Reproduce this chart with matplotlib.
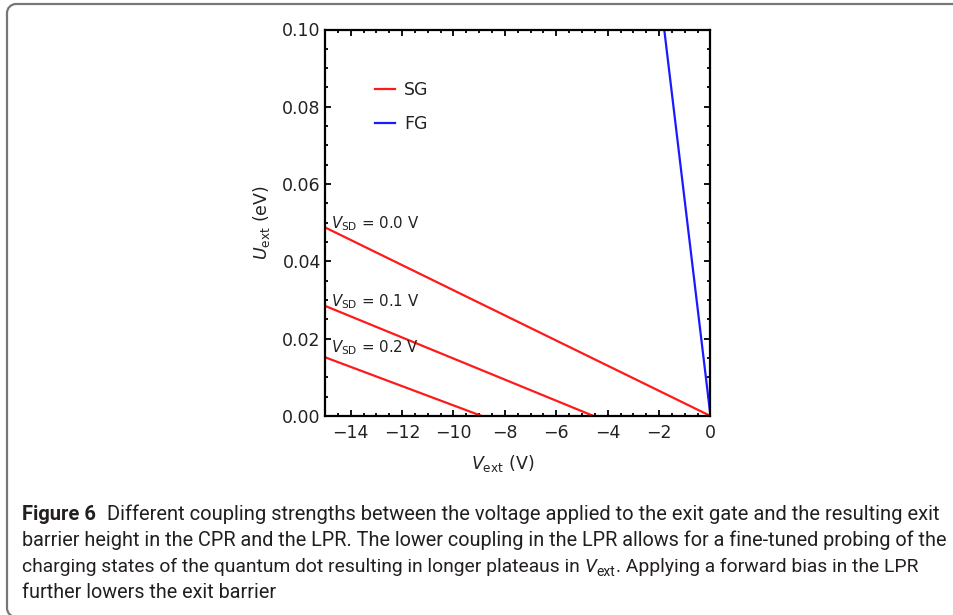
import matplotlib
matplotlib.use("Agg")
import matplotlib.pyplot as plt
from matplotlib.path import Path
from matplotlib.patches import PathPatch
from matplotlib.ticker import MultipleLocator
from matplotlib import font_manager

plt.rcParams["font.family"] = ["DejaVu Sans"]
plt.rcParams["mathtext.fontset"] = "dejavusans"

# ---------------- data ----------------
v_sd00 = [-15.0, 0.0]
u_sd00 = [0.0488, 0.0]
v_sd01 = [-15.0, -4.55]
u_sd01 = [0.0285, 0.0]
v_sd02 = [-15.0, -8.9]
u_sd02 = [0.0152, 0.0]
v_fg = [-1.80, 0.0]
u_fg = [0.100, 0.0]

vsd_labels = [r"$V_{\rm SD}$ = 0.0 V", r"$V_{\rm SD}$ = 0.1 V", r"$V_{\rm SD}$ = 0.2 V"]
vsd_label_y = [0.0486, 0.0285, 0.0166]
legend_labels = ["SG", "FG"]
xticks = [-14, -12, -10, -8, -6, -4, -2, 0]
yticks = [0.00, 0.02, 0.04, 0.06, 0.08, 0.10]

caption_bold = "Figure 6"
caption_line1 = "Different coupling strengths between the voltage applied to the exit gate and the resulting exit"
caption_line2 = "barrier height in the CPR and the LPR. The lower coupling in the LPR allows for a fine-tuned probing of the"
caption_line3a = "charging states of the quantum dot resulting in longer plateaus in "
caption_line3v = "V"
caption_line3s = "ext"
caption_line3b = ". Applying a forward bias in the LPR"
caption_line4 = "further lowers the exit barrier"

RED = "#ff1a1a"
BLUE = "#1a1aff"

W, H = 954, 615
fig = plt.figure(figsize=(W / 100, H / 100), dpi=100)

# frame (drawn in pixel coordinates, open on the right)
r = 9
k = 0.45
xl, yt, yb = 7, 4, 617
verts_px = [(W + 5, yt), (xl + r, yt),
            (xl + r * k, yt), (xl, yt + r * k), (xl, yt + r),
            (xl, yb - r),
            (xl, yb - r * k), (xl + r * k, yb), (xl + r, yb),
            (W + 5, yb)]
codes = [Path.MOVETO, Path.LINETO,
         Path.CURVE4, Path.CURVE4, Path.CURVE4,
         Path.LINETO,
         Path.CURVE4, Path.CURVE4, Path.CURVE4,
         Path.LINETO]
verts_fig = [(x / W, 1 - y / H) for x, y in verts_px]
frame = PathPatch(Path(verts_fig, codes), transform=fig.transFigure, fill=False,
                  edgecolor="#777777", lw=1.6, clip_on=False)
fig.patches.append(frame)

ax = fig.add_axes([325 / W, 1 - 416 / H, 385.5 / W, 386.5 / H])
ax.plot(v_sd00, u_sd00, color=RED, lw=1.6, label=legend_labels[0])
ax.plot(v_sd01, u_sd01, color=RED, lw=1.6)
ax.plot(v_sd02, u_sd02, color=RED, lw=1.6)
ax.plot(v_fg, u_fg, color=BLUE, lw=1.6, label=legend_labels[1])

for lab, yy in zip(vsd_labels, vsd_label_y):
    ax.text(-14.78, yy, lab, fontsize=10.8, va="baseline", ha="left", color="#222222")

ax.set_xlim(-15, 0)
ax.set_ylim(0, 0.1)
ax.set_xticks(xticks)
ax.set_yticks(yticks)
ax.set_yticklabels([f"{t:.2f}" for t in yticks])
ax.xaxis.set_minor_locator(MultipleLocator(0.5))
ax.yaxis.set_minor_locator(MultipleLocator(0.005))
ax.tick_params(which="both", direction="in", top=True, right=True, width=1.3,
               labelsize=12.5, colors="black", labelcolor="#222222")
ax.tick_params(which="major", length=4.5)
ax.tick_params(which="minor", length=2.5)
ax.tick_params(axis="x", pad=6)
ax.tick_params(axis="y", pad=3)
for s in ax.spines.values():
    s.set_linewidth(1.6)

ax.set_xlabel(r"$V_{\rm ext}$ (V)", fontsize=12.5, color="#222222")
ax.set_ylabel(r"$U_{\rm ext}$ (eV)", fontsize=12.5, color="#222222")
ax.xaxis.set_label_coords(0.462, -0.095)
ax.yaxis.set_label_coords(-0.138, 0.5)

leg = ax.legend(loc="upper left", bbox_to_anchor=(0.13, 0.867), frameon=False,
                fontsize=12.5, handlelength=1.15, handletextpad=0.5,
                labelspacing=0.95, borderpad=0, borderaxespad=0)
for t in leg.get_texts():
    t.set_color("#222222")

# ---------------- caption ----------------
avail = {f.name for f in font_manager.fontManager.ttflist}
cap_font = "DejaVu Sans"
for cand in ["Liberation Sans Narrow", "Roboto", "Lato", "Open Sans", "Noto Sans"]:
    if cand in avail:
        cap_font = cand
        break

renderer = fig.canvas.get_renderer()
x0 = 22
base_y = [520, 546, 572, 598]
cap_color = "#231f20"
gap = 11


def fig_xy(px, py):
    return px / W, 1 - py / H


def ctext(px, py, s, size, **kw):
    return fig.text(*fig_xy(px, py), s, fontsize=size, family=cap_font,
                    va="baseline", ha="left", color=cap_color, **kw)


def width(t):
    return t.get_window_extent(renderer).width


def layout_pieces(pieces, py, size):
    """pieces: list of (text, kwargs, size_factor, dy, extra_gap)"""
    x = x0
    arts = []
    for s, kw, f, dy, g in pieces:
        t = ctext(x, py + dy, s, size * f, **kw)
        x += width(t) + g
        arts.append(t)
    return arts, x


def fit_line(pieces, py, end_px, fs=12.0):
    arts, xend = layout_pieces(pieces, py, fs)
    size = fs * (end_px - x0) / (xend - x0)
    for a in arts:
        a.remove()
    arts, xend = layout_pieces(pieces, py, size)
    return size


line1 = [(caption_bold, {"fontweight": "bold"}, 1.0, 0, gap),
         (caption_line1, {}, 1.0, 0, 0)]
line2 = [(caption_line2, {}, 1.0, 0, 0)]
line3 = [(caption_line3a, {}, 1.0, 0, 0),
         (caption_line3v, {"style": "italic"}, 1.0, 0, 0.5),
         (caption_line3s, {}, 0.72, 4, 0),
         (caption_line3b, {}, 1.0, 0, 0)]

s1 = fit_line(line1, base_y[0], 941)
s2 = fit_line(line2, base_y[1], 945)
s3 = fit_line(line3, base_y[2], 913)
ctext(x0, base_y[3], caption_line4, (s1 + s2 + s3) / 3)

fig.savefig("out.png", dpi=100)
